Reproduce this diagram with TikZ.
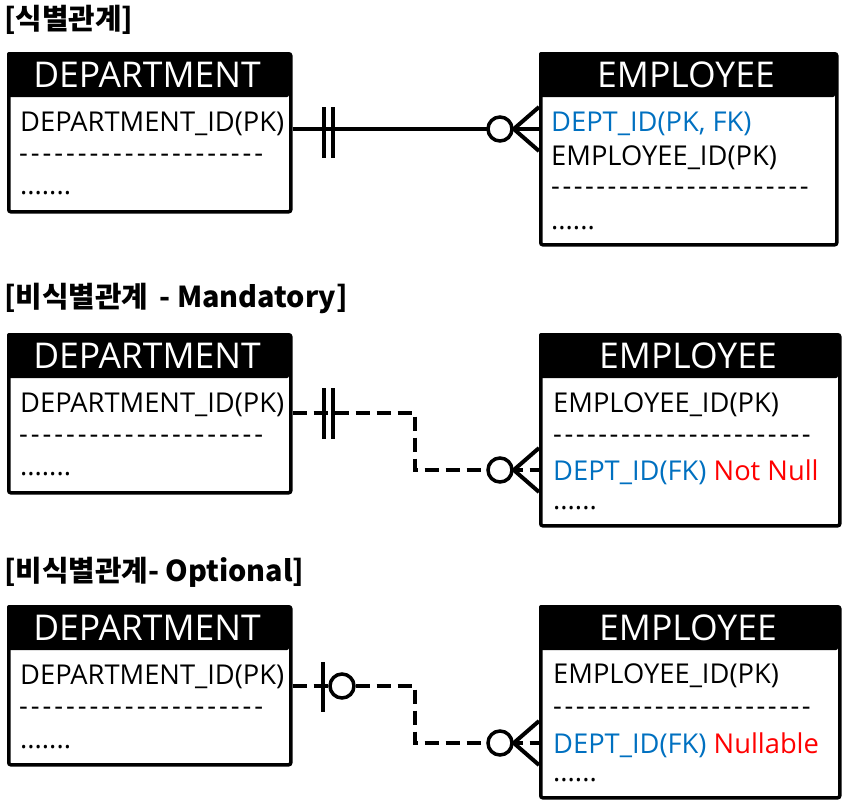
\documentclass[tikz,border=0pt]{standalone}
\usepackage{fontspec}
\setmainfont{Open Sans}
\newfontfamily\korfont{Noto Sans CJK KR}
\definecolor{fkblue}{HTML}{0070C0}
\definecolor{nnred}{HTML}{FF0000}
\newcommand\hyph[2]{\foreach \i in {1,...,#1}{\makebox[#2][l]{-}}}
\begin{document}
\begin{tikzpicture}[x=1pt,y=-1pt,
  head/.style={anchor=west, inner sep=0, font=\korfont\bfseries\fontsize{28.8}{28.8}\selectfont},
  box/.style={draw, line width=3.5pt, rounded corners=2pt, anchor=north west, inner sep=0},
  ttl/.style={text=white, inner sep=0, font=\fontsize{35.5}{35.5}\selectfont},
  fld/.style={anchor=west, inner sep=0, font=\fontsize{27.3}{27.3}\selectfont},
  fk/.style={fld, text=fkblue},
  rel/.style={line width=4pt},
  nrel/.style={line width=4pt, dash pattern=on 14pt off 7pt},
  tick/.style={line width=4pt},
  ring/.style={circle, draw, line width=3.5pt, minimum size=24pt, inner sep=0, fill=white}]
\useasboundingbox (0,0) rectangle (847,807);

% ---------- Section 1 ----------
\node[head] (h1) at (4,20) {[식별관계]};
\fill[rounded corners=2pt] (7,52) rectangle (289,97);
\node[box, minimum width=282pt, minimum height=158pt] (d1) at (7,52) {};
\node[ttl] (d1t) at (147,75) {DEPARTMENT};
\node[fld] (d1a) at (20,124) {DEPARTMENT\_ID(PK)};
\node[fld] (d1b) at (19,158) {\hyph{21}{11.75pt}};
\node[fld] (d1c) at (20,193) {.......};

\fill[rounded corners=2pt] (539,52) rectangle (835,97);
\node[box, minimum width=296pt, minimum height=191pt] (e1) at (539,52) {};
\node[ttl] (e1t) at (686,75) {EMPLOYEE};
\node[fk] (e1a) at (551,124) {DEPT\_ID(PK, FK)};
\node[fld] (e1b) at (551,158) {EMPLOYEE\_ID(PK)};
\node[fld] (e1c) at (551,191) {\hyph{23}{11.3pt}};
\node[fld] (e1d) at (551,228) {......};

\coordinate (s1) at (d1.east |- 0,129);
\coordinate (t1) at (e1.west |- 0,129);
\draw[rel] (s1) -- (t1);
\draw[tick] (324,107) -- (324,158) (333,107) -- (333,158);
\node[ring] (o1) at (500,129) {};
\draw[tick] (o1.east) -- (e1.west |- 0,107) (o1.east) -- (e1.west |- 0,151);

% ---------- Section 2 ----------
\node[head] (h2) at (4,298) {[비식별관계 \,- Mandatory]};
\fill[rounded corners=2pt] (7,333) rectangle (289,378);
\node[box, minimum width=282pt, minimum height=158pt] (d2) at (7,333) {};
\node[ttl] (d2t) at (147,356) {DEPARTMENT};
\node[fld] (d2a) at (20,405) {DEPARTMENT\_ID(PK)};
\node[fld] (d2b) at (19,439) {\hyph{21}{11.75pt}};
\node[fld] (d2c) at (20,474) {.......};

\fill[rounded corners=2pt] (539,333) rectangle (838,378);
\node[box, minimum width=299pt, minimum height=191pt] (e2) at (539,333) {};
\node[ttl] (e2t) at (688,356) {EMPLOYEE};
\node[fld] (e2a) at (553,405) {EMPLOYEE\_ID(PK)};
\node[fld] (e2b) at (553,439) {\hyph{23}{11.3pt}};
\node[fk] (e2c) at (553,472) {DEPT\_ID(FK) \textcolor{nnred}{Not Null}};
\node[fld] (e2d) at (553,508) {......};

\coordinate (s2) at (d2.east |- 0,413);
\coordinate (m2a) at (415,413);
\coordinate (m2b) at (415,470);
\coordinate (t2) at (e2.west |- 0,470);
\draw[nrel] (s2) -- (m2a) -- (m2b) -- (t2);
\draw[tick] (324,388) -- (324,439) (333,388) -- (333,439);
\node[ring] (o2) at (500,470) {};
\draw[tick] (o2.east) -- (e2.west |- 0,448) (o2.east) -- (e2.west |- 0,492);

% ---------- Section 3 ----------
\node[head] (h3) at (4,572) {[비식별관계- Optional]};
\fill[rounded corners=2pt] (7,605) rectangle (289,650);
\node[box, minimum width=282pt, minimum height=158pt] (d3) at (7,605) {};
\node[ttl] (d3t) at (147,628) {DEPARTMENT};
\node[fld] (d3a) at (20,677) {DEPARTMENT\_ID(PK)};
\node[fld] (d3b) at (19,711) {\hyph{21}{11.75pt}};
\node[fld] (d3c) at (20,747) {.......};

\fill[rounded corners=2pt] (539,605) rectangle (838,650);
\node[box, minimum width=299pt, minimum height=191pt] (e3) at (539,605) {};
\node[ttl] (e3t) at (688,628) {EMPLOYEE};
\node[fld] (e3a) at (553,676) {EMPLOYEE\_ID(PK)};
\node[fld] (e3b) at (553,711) {\hyph{23}{11.3pt}};
\node[fk] (e3c) at (553,745) {DEPT\_ID(FK) \textcolor{nnred}{Nullable}};
\node[fld] (e3d) at (553,780) {......};

\coordinate (s3) at (d3.east |- 0,686);
\coordinate (m3a) at (415,686);
\coordinate (m3b) at (415,743);
\coordinate (t3) at (e3.west |- 0,743);
\draw[nrel] (s3) -- (m3a) -- (m3b) -- (t3);
\draw[tick] (323,662) -- (323,712);
\node[ring] (p3) at (342,686) {};
\node[ring] (o3) at (500,743) {};
\draw[tick] (o3.east) -- (e3.west |- 0,721) (o3.east) -- (e3.west |- 0,765);
\end{tikzpicture}
\end{document}
